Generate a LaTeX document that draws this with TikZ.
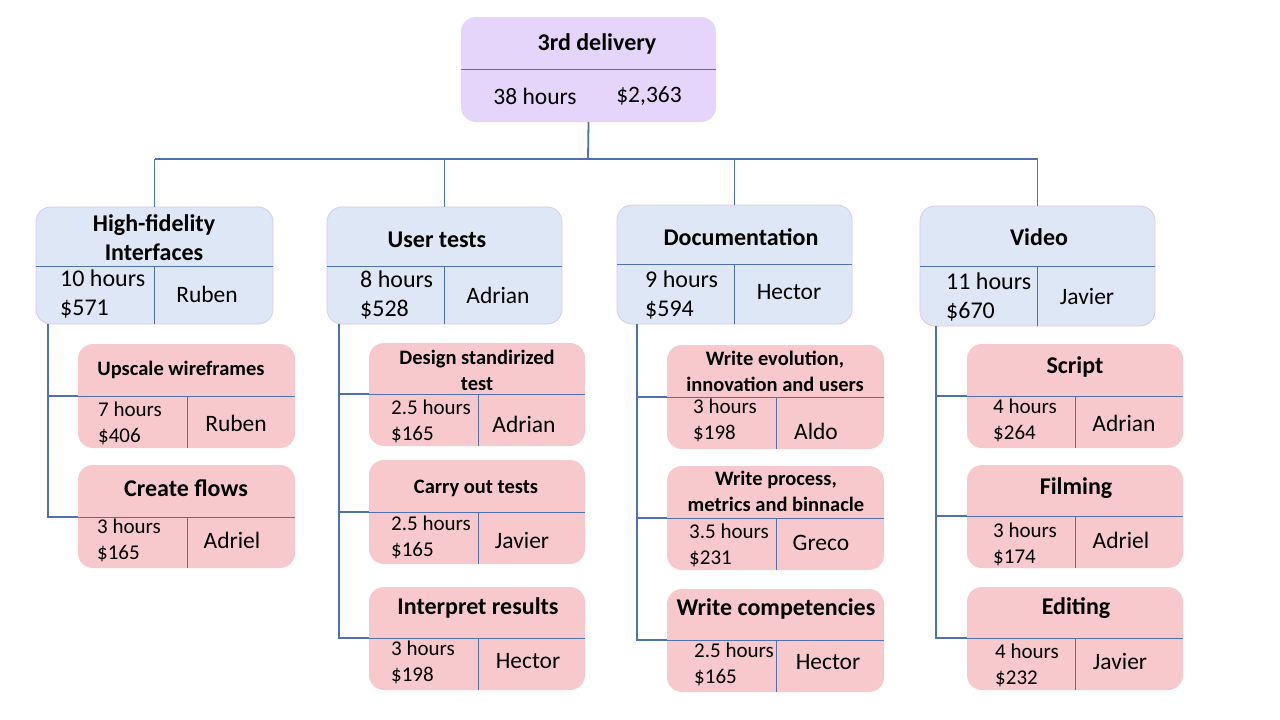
\documentclass[tikz,border=0pt]{standalone}
\usepackage{fontspec}
\setmainfont{Carlito}
\definecolor{linec}{HTML}{4F71AE}
\definecolor{topf}{HTML}{E6D5FA}
\definecolor{bluef}{HTML}{DDE7F5}
\definecolor{pinkf}{HTML}{F7C9CC}
\definecolor{blueb}{HTML}{D8C8F0}
\tikzset{
 boxbase/.style={rounded corners=15pt, inner sep=0pt, outer sep=0pt, anchor=north west},
 topbox/.style={boxbase, fill=topf},
 bluebox/.style={boxbase, fill=bluef, draw=blueb, line width=0.8pt},
 pinkbox/.style={boxbase, fill=pinkf},
 divider/.style={draw=linec, line width=0.9pt},
 conn/.style={draw=linec, line width=1.8pt},
 ttlA/.style={font=\bfseries\fontsize{24}{29}\selectfont, align=center, inner sep=0pt},
 ttlB/.style={font=\bfseries\fontsize{20.5}{26}\selectfont, align=center, inner sep=0pt},
 ttlC/.style={font=\bfseries\fontsize{20.5}{26}\selectfont, align=center, inner sep=0pt},
 bodyA/.style={font=\fontsize{24}{28.5}\selectfont, align=left, inner sep=0pt, anchor=west},
 bodyB/.style={font=\fontsize{21}{26}\selectfont, align=left, inner sep=0pt, anchor=west},
 nameA/.style={font=\fontsize{23.5}{26}\selectfont, inner sep=0pt},
 nameB/.style={font=\fontsize{23.5}{26}\selectfont, inner sep=0pt},
}
% name, style, x1, y1, x2, y2, ydiv, xdiv
\newcommand\wbsbox[8]{%
 \node[#2, minimum width=#5pt-#3pt, minimum height=#6pt-#4pt] (#1) at (#3,#4) {};
 \coordinate (#1-d) at (#3,#7);
 \draw[divider] (#1.west |- #1-d) -- (#1.east |- #1-d);
 \draw[divider] (#8,#7) -- (#1.south -| #8,#7);
}
\begin{document}
\begin{tikzpicture}[x=1pt,y=-1pt]
\useasboundingbox[fill=white] (0,0) rectangle (1280,720);

% top
\node[topbox, minimum width=255pt, minimum height=105pt] (top) at (461,17) {};
\coordinate (top-d) at (461,69);
\draw[divider] (top.west |- top-d) -- (top.east |- top-d);
\node[ttlA] (topt) at (597,44) {3rd delivery};
\node[nameA] (toph) at (535,96) {38 hours};
\node[nameA] (topc) at (649,96) {\$2,363};

% level 1
\wbsbox{b1}{bluebox}{36}{207}{273}{324}{266}{154}
\wbsbox{b2}{bluebox}{327}{207}{562}{324}{266}{444}
\wbsbox{b3}{bluebox}{617}{205}{852}{324}{264}{734}
\wbsbox{b4}{bluebox}{920}{206}{1155}{326}{266}{1037}

\node[ttlA] (b1t) at (154,238) {High-fidelity\\Interfaces};
\node[bodyA] (b1l) at (60,294) {10 hours\\\$571};
\node[nameA] (b1r) at (207,294) {Ruben};
\node[ttlA] (b2t) at (437,240) {User tests};
\node[bodyA] (b2l) at (360,295) {8 hours\\\$528};
\node[nameA] (b2r) at (498,295) {Adrian};
\node[ttlA] (b3t) at (741,237) {Documentation};
\node[bodyA] (b3l) at (645,295) {9 hours\\\$594};
\node[nameA] (b3r) at (789,292) {Hector};
\node[ttlA] (b4t) at (1039,237) {Video};
\node[bodyA] (b4l) at (946,297) {11 hours\\\$670};
\node[nameA] (b4r) at (1087,296) {Javier};

% bus
\coordinate (bus) at (588,159);
\draw[conn] (top.south) -- (bus);
\draw[conn] (b1.north |- bus) -- (b4.north |- bus);
\foreach \b in {b1,b2,b3,b4} \draw[conn] (\b.north |- bus) -- (\b.north);

% column 1
\wbsbox{p11}{pinkbox}{78}{344}{295}{448}{396}{187}
\wbsbox{p12}{pinkbox}{78}{465}{295}{568}{517}{187}
\node[ttlB] (p11t) at (181,370) {Upscale wireframes};
\node[bodyB] (p11l) at (98,423) {7 hours\\\$406};
\node[nameB] (p11r) at (236,423) {Ruben};
\node[ttlA] (p12t) at (186,488) {Create flows};
\node[bodyB] (p12l) at (97,540) {3 hours\\\$165};
\node[nameB] (p12r) at (232,540) {Adriel};

% column 2
\wbsbox{p21}{pinkbox}{369}{343}{585}{446}{394}{478}
\wbsbox{p22}{pinkbox}{369}{460}{585}{564}{512}{478}
\wbsbox{p23}{pinkbox}{369}{587}{585}{690}{638}{478}
\node[ttlB] (p21t) at (477,370) {Design standirized\\test};
\node[bodyB] (p21l) at (391,421) {2.5 hours\\\$165};
\node[nameB] (p21r) at (524,424) {Adrian};
\node[ttlB] (p22t) at (476,488) {Carry out tests};
\node[bodyB] (p22l) at (391,537) {2.5 hours\\\$165};
\node[nameB] (p22r) at (522,540) {Javier};
\node[ttlA] (p23t) at (478,608) {Interpret results};
\node[bodyB] (p23l) at (391,662) {3 hours\\\$198};
\node[nameB] (p23r) at (528,661) {Hector};

% column 3
\wbsbox{p31}{pinkbox}{667}{345}{884}{449}{397}{776}
\wbsbox{p32}{pinkbox}{667}{466}{884}{570}{518}{776}
\wbsbox{p33}{pinkbox}{667}{589}{884}{692}{640}{776}
\node[ttlC] (p31t) at (775,371) {Write evolution,\\innovation and users};
\node[bodyB] (p31l) at (693,420) {3 hours\\\$198};
\node[nameB] (p31r) at (816,431) {Aldo};
\node[ttlC] (p32t) at (776,491) {Write process,\\metrics and binnacle};
\node[bodyB] (p32l) at (689,545) {3.5 hours\\\$231};
\node[nameB] (p32r) at (821,543) {Greco};
\node[ttlA] (p33t) at (776,609) {Write competencies};
\node[bodyB] (p33l) at (694,664) {2.5 hours\\\$165};
\node[nameB] (p33r) at (828,662) {Hector};

% column 4
\wbsbox{p41}{pinkbox}{967}{344}{1183}{448}{396}{1075}
\wbsbox{p42}{pinkbox}{967}{465}{1183}{568}{516}{1075}
\wbsbox{p43}{pinkbox}{967}{587}{1183}{690}{638}{1075}
\node[ttlA] (p41t) at (1075,367) {Script};
\node[bodyB] (p41l) at (993,420) {4 hours\\\$264};
\node[nameB] (p41r) at (1124,423) {Adrian};
\node[ttlA] (p42t) at (1076,488) {Filming};
\node[bodyB] (p42l) at (993,544) {3 hours\\\$174};
\node[nameB] (p42r) at (1121,540) {Adriel};
\node[ttlA] (p43t) at (1076,608) {Editing};
\node[bodyB] (p43l) at (995,665) {4 hours\\\$232};
\node[nameB] (p43r) at (1120,661) {Javier};

% spines
\coordinate (s1) at (48,324);
\coordinate (s2) at (339,324);
\coordinate (s3) at (637,324);
\coordinate (s4) at (936,326);
\draw[conn] (s1) |- (p12-d);
\draw[conn] (s1 |- p11-d) -- (p11-d);
\draw[conn] (s2) |- (p23-d);
\draw[conn] (s2 |- p21-d) -- (p21-d);
\draw[conn] (s2 |- p22-d) -- (p22-d);
\draw[conn] (s3) |- (p33-d);
\draw[conn] (s3 |- p31-d) -- (p31-d);
\draw[conn] (s3 |- p32-d) -- (p32-d);
\draw[conn] (s4) |- (p43-d);
\draw[conn] (s4 |- p41-d) -- (p41-d);
\draw[conn] (s4 |- p42-d) -- (p42-d);
\end{tikzpicture}
\end{document}
